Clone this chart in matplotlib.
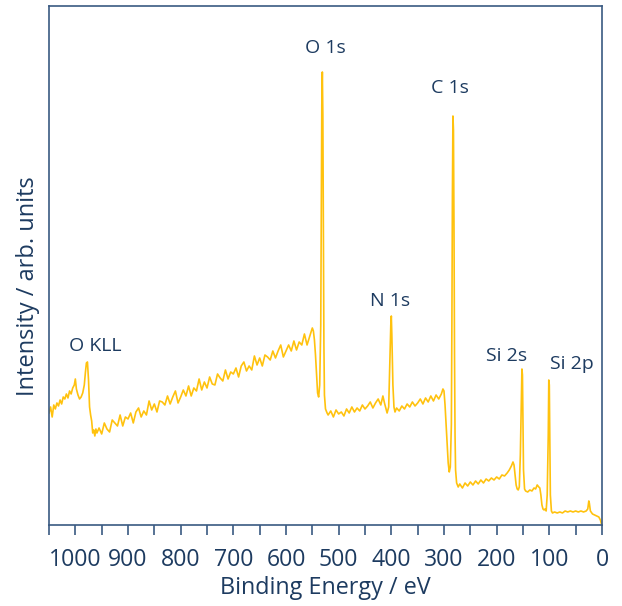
import matplotlib
matplotlib.use("Agg")
import matplotlib.pyplot as plt
from matplotlib.ticker import MultipleLocator

plt.rcParams['font.family'] = ['Open Sans', 'DejaVu Sans']

# survey spectrum: binding energy (eV) and intensity (arb.)
binding_energy = [
    1050, 1047, 1044, 1041, 1038, 1035, 1032, 1029, 1026, 1023, 1020, 1017, 1014, 1011,
    1008, 1005, 1002, 1000, 998, 995, 992, 989, 986, 983, 981, 979, 977, 975, 973, 971,
    969, 967, 965, 963, 961, 959,
    955, 950, 945, 940, 935, 930, 925, 920, 915, 910, 905, 900, 895, 890, 885, 880,
    875, 870, 865, 860, 855, 850, 845, 840, 835, 830, 825, 820, 815, 810, 805, 800,
    795, 790, 785, 780, 775, 770, 765, 760, 755, 750, 745, 740, 735, 730, 725, 720,
    715, 710, 705, 700, 695, 690, 685, 680, 675, 670, 665, 660, 655, 650, 645, 640,
    635, 630, 625, 620, 615, 610, 605, 600, 595, 590, 585, 580, 575, 570, 565, 560,
    556, 553, 550, 548, 546, 544, 542, 540, 538, 536, 534, 533, 532, 531, 530, 529,
    528, 527, 525, 522,
    520, 515, 510, 505, 500, 495, 490, 485, 480, 475, 470, 465, 460, 455, 450, 445,
    440, 435, 430, 425, 420, 416, 413, 410, 408, 405, 403, 401, 400, 399, 397, 395,
    393, 390, 385, 380, 375, 370, 365, 360, 355, 350, 345, 340, 335, 330, 325, 320,
    315, 310, 305, 302, 300, 298, 296, 294, 292, 290, 288, 286, 285, 284, 283, 282,
    281, 280, 279, 278, 276, 273, 270, 265, 260, 255, 250, 245, 240, 235, 230, 225,
    220, 215, 210, 205, 200, 195, 190, 185, 180, 176, 172, 169, 167, 165, 163, 161,
    159, 157, 155, 153, 152, 151, 150, 149, 147, 145, 141, 137, 133, 129, 126, 123,
    120, 118, 116, 114, 112, 110, 108, 106, 104, 102, 101, 100, 99, 98, 96, 94,
    90, 85, 80, 75, 70, 65, 60, 55, 50, 45, 40, 35, 30, 27, 25, 24,
    22, 18, 14, 10, 6, 3, 1, 0,
]
intensity = [
    112, 118, 108, 120, 116, 122, 119, 125, 121, 128, 126, 131, 127, 134,
    131, 137, 140, 146, 136, 130, 126, 128, 132, 140, 152, 162, 163, 145, 118, 110,
    104, 92, 95, 89, 96, 92,
    97, 91, 102, 96, 93, 105, 102, 99, 110, 99, 108, 106, 112, 102, 113, 117,
    108, 114, 110, 124, 115, 121, 113, 124, 123, 120, 129, 121, 128, 134, 122, 128,
    135, 129, 139, 129, 137, 134, 146, 135, 143, 137, 148, 141, 140, 151, 147, 144,
    155, 146, 153, 151, 157, 148, 159, 163, 154, 159, 155, 169, 160, 167, 159, 170,
    168, 165, 174, 167, 174, 180, 168, 174, 180, 174, 184, 175, 183, 180, 191, 180,
    187, 192, 197, 194, 185, 170, 150, 132, 128, 140, 200, 300, 420, 453, 410, 290,
    180, 130, 116, 112,
    110, 114, 108, 115, 111, 113, 109, 116, 112, 118, 113, 117, 114, 120, 116, 119,
    123, 117, 122, 126, 120, 129, 122, 116, 112, 118, 160, 200, 209, 190, 140, 118,
    113, 117, 114, 119, 116, 121, 118, 123, 119, 122, 126, 121, 127, 123, 129, 124,
    130, 126, 131, 136, 134, 120, 100, 80, 62, 53, 58, 100, 200, 330, 409, 395,
    300, 170, 90, 55, 42, 38, 41, 37, 42, 39, 43, 40, 44, 41, 45, 42,
    46, 44, 47, 45, 48, 46, 50, 49, 52, 55, 59, 63, 60, 50, 40, 36,
    35, 38, 70, 130, 156, 150, 100, 55, 36, 34, 33, 35, 34, 37, 36, 40,
    38, 37, 30, 20, 16, 15, 16, 14, 30, 90, 145, 140, 80, 30, 14, 12,
    13, 12, 13, 12, 14, 13, 14, 13, 14, 13, 14, 13, 14, 16, 24, 22,
    14, 11, 10, 9, 8, 5, 1, 0,
]

peak_labels = ["O 1s", "C 1s", "N 1s", "O KLL", "Si 2s", "Si 2p"]
label_energy = [525, 288, 402, 963, 181, 58]
label_height = [477, 437, 224, 179, 169, 161]

navy = "#1d3b60"
frame = "#3a5a82"
gold = "#ffc20e"

fig = plt.figure(figsize=(6.22, 6.06), dpi=100)
ax = fig.add_axes([0.0788, 0.1337, 0.889, 0.8564])

ax.plot(binding_energy, intensity, color=gold, lw=1.2)

for txt, xe, yh in zip(peak_labels, label_energy, label_height):
    ax.text(xe, yh, txt, ha='center', va='center', fontsize=14, color=navy)

ax.set_xlim(1050, 0)
ax.set_ylim(0, 519)
ax.xaxis.set_major_locator(MultipleLocator(100))
ax.xaxis.set_minor_locator(MultipleLocator(50))
ax.set_yticks([])
ax.tick_params(axis='x', which='both', direction='out', length=7, width=1.2,
               colors=frame, labelcolor=navy, labelsize=16.6, pad=9.5)
for sp in ax.spines.values():
    sp.set_color(frame)
    sp.set_linewidth(1.2)

ax.set_xlabel("Binding Energy / eV", fontsize=16.8, color=navy, labelpad=3)
ax.set_ylabel("Intensity / arb. units", fontsize=17, color=navy)
ax.yaxis.set_label_coords(-0.016, 0.46)

fig.savefig("out.png", dpi=100)
